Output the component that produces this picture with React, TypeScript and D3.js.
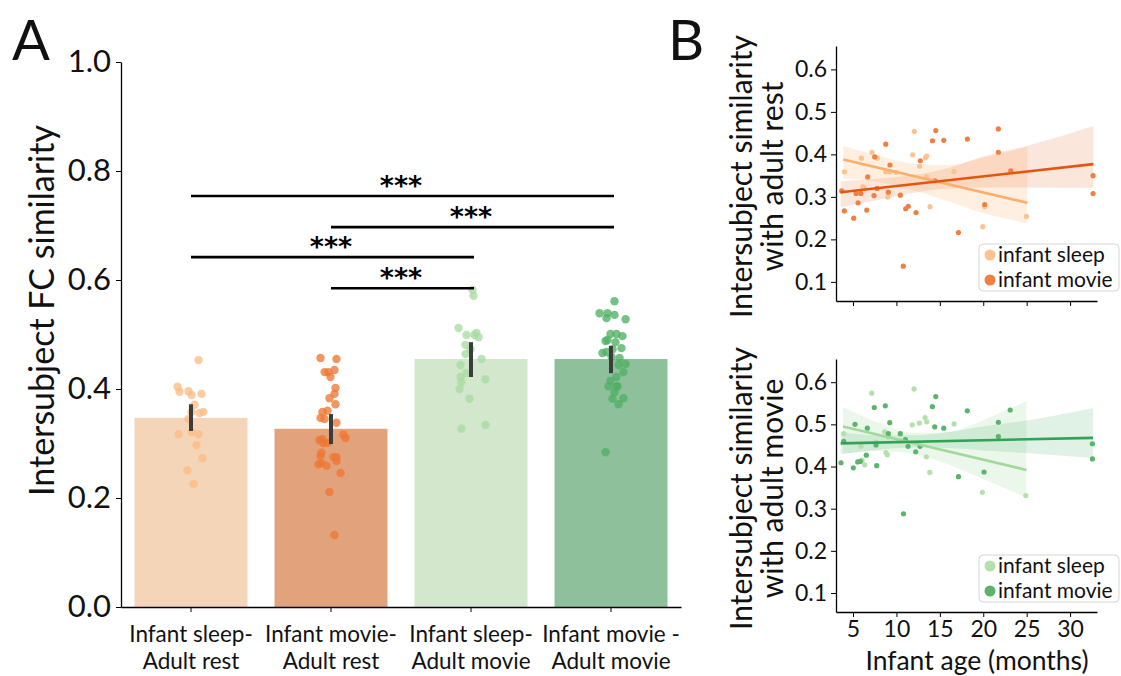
import React, { useRef, useEffect } from "react";
import * as d3 from "d3";

// ---- panel A data ----
const categories = [
  "Infant sleep-|Adult rest",
  "Infant movie-|Adult rest",
  "Infant sleep-|Adult movie",
  "Infant movie -|Adult movie",
];
const barMeans = [0.347, 0.327, 0.455, 0.455];
const ciLow = [0.323, 0.299, 0.422, 0.429];
const ciHigh = [0.372, 0.354, 0.486, 0.479];

// [jitter (category units), value]
const sleepRestPts = [
  [0.054, 0.453], [-0.096, 0.404], [-0.082, 0.395], [-0.018, 0.396], [0.004, 0.389],
  [0.075, 0.391], [0.025, 0.371], [0.004, 0.358], [0.061, 0.356], [0.089, 0.358],
  [-0.018, 0.345], [0.004, 0.321], [-0.089, 0.317], [0.054, 0.317], [0.039, 0.297],
  [0.082, 0.273], [-0.025, 0.251], [0.018, 0.226],
];
const movieRestPts = [
  [-0.075, 0.457], [0.039, 0.455], [-0.046, 0.431], [-0.018, 0.431], [0.025, 0.435],
  [-0.004, 0.422], [0.032, 0.402], [0.025, 0.391], [-0.011, 0.383], [0.032, 0.372],
  [-0.061, 0.358], [-0.025, 0.36], [-0.075, 0.347], [-0.046, 0.345], [0.039, 0.338],
  [0.089, 0.316], [0.104, 0.31], [-0.082, 0.306], [-0.061, 0.308], [-0.054, 0.301],
  [-0.025, 0.301], [-0.068, 0.283], [-0.075, 0.277], [0.018, 0.275], [0.039, 0.275],
  [0.039, 0.268], [-0.089, 0.262], [-0.068, 0.264], [-0.032, 0.259], [0.068, 0.246],
  [-0.011, 0.211], [0.025, 0.132],
];
const sleepMoviePts = [
  [0.011, 0.582], [0.018, 0.571], [-0.089, 0.512], [-0.032, 0.499], [0.039, 0.503],
  [0.054, 0.495], [0.025, 0.499], [-0.039, 0.481], [-0.004, 0.473], [-0.039, 0.464],
  [0.075, 0.455], [-0.075, 0.444], [-0.032, 0.429], [-0.075, 0.422], [-0.068, 0.413],
  [0.104, 0.418], [-0.082, 0.4], [-0.011, 0.382], [0.104, 0.334], [-0.068, 0.327],
];
const movieMoviePts = [
  [0.025, 0.561], [-0.082, 0.539], [-0.025, 0.539], [0.025, 0.536], [-0.032, 0.53],
  [0.104, 0.528], [-0.004, 0.501], [0.039, 0.501], [0.082, 0.497], [-0.039, 0.488],
  [-0.025, 0.49], [0.032, 0.486], [0.075, 0.475], [0.011, 0.473], [-0.061, 0.466],
  [-0.032, 0.468], [0.004, 0.459], [0.061, 0.457], [0.054, 0.444], [0.104, 0.446],
  [0.089, 0.431], [0.039, 0.422], [-0.004, 0.415], [-0.018, 0.405], [0.046, 0.405],
  [0.039, 0.404], [0.025, 0.394], [0.089, 0.383], [0.011, 0.382], [0.054, 0.372],
  [-0.039, 0.284],
];
const stripPts = [sleepRestPts, movieRestPts, sleepMoviePts, movieMoviePts];
// [from, to, height]
const sigPairs = [
  [0, 3, 0.754],
  [1, 3, 0.697],
  [0, 2, 0.642],
  [1, 2, 0.585],
];
const yTicksA = [0, 0.2, 0.4, 0.6, 0.8, 1.0];

// ---- panel B data: [age in months, similarity] ----
const restSleep = [
  [12.06, 0.454], [7.19, 0.405], [7.8, 0.391], [5.96, 0.391], [11.88, 0.399],
  [13.49, 0.396], [13.33, 0.392], [12.68, 0.372], [8.77, 0.359], [9.26, 0.359],
  [9.95, 0.358], [4.0, 0.359], [13.49, 0.347], [16.64, 0.36], [6.12, 0.324],
  [6.35, 0.32], [9.0, 0.3], [13.87, 0.277], [20.17, 0.277], [19.94, 0.23],
  [24.97, 0.254],
];
const restMovie = [
  [14.53, 0.456], [14.15, 0.432], [15.45, 0.433], [8.77, 0.424], [7.5, 0.394],
  [12.75, 0.385], [9.26, 0.375], [6.69, 0.347], [14.45, 0.338], [3.7, 0.314],
  [5.35, 0.308], [5.89, 0.308], [7.77, 0.32], [9.07, 0.311], [7.42, 0.303],
  [10.45, 0.304], [4.0, 0.267], [5.58, 0.286], [6.58, 0.269], [5.08, 0.25],
  [11.37, 0.278], [11.07, 0.272], [12.26, 0.263], [17.14, 0.216], [10.79, 0.137],
  [21.74, 0.46], [18.17, 0.436], [21.74, 0.405], [23.17, 0.361], [32.65, 0.35],
  [32.65, 0.308], [20.17, 0.282],
];
const movieSleep = [
  [12.03, 0.584], [7.15, 0.574], [11.83, 0.499], [12.64, 0.503], [13.3, 0.516],
  [13.49, 0.506], [16.64, 0.501], [8.65, 0.482], [9.07, 0.47], [3.93, 0.478],
  [7.7, 0.458], [5.92, 0.448], [8.8, 0.433], [8.95, 0.428], [13.45, 0.423],
  [6.04, 0.415], [6.35, 0.404], [13.84, 0.386], [19.9, 0.339], [24.9, 0.331],
];
const movieMovie = [
  [14.53, 0.566], [8.72, 0.544], [7.45, 0.54], [14.14, 0.542], [9.23, 0.504],
  [5.23, 0.5], [6.65, 0.491], [14.41, 0.494], [15.45, 0.491], [9.07, 0.478],
  [10.45, 0.478], [3.93, 0.46], [7.65, 0.451], [11.03, 0.464], [11.34, 0.448],
  [12.72, 0.448], [12.22, 0.435], [6.53, 0.427], [5.54, 0.411], [5.84, 0.412],
  [3.62, 0.409], [7.73, 0.402], [5.03, 0.397], [17.14, 0.376], [10.82, 0.288],
  [18.16, 0.532], [23.1, 0.534], [21.74, 0.505], [21.74, 0.471], [32.57, 0.454],
  [32.57, 0.418], [20.09, 0.387],
];
// regression fits [age, value] at both ends
const restSleepFit = [[3.88, 0.388], [25.08, 0.286]];
const restMovieFit = [[3.58, 0.311], [32.68, 0.377]];
const movieSleepFit = [[3.85, 0.495], [24.97, 0.392]];
const movieMovieFit = [[3.58, 0.455], [32.65, 0.468]];
// confidence bands [age, low, high]
const restSleepBand = [
  [3.88, 0.343, 0.42], [8, 0.335, 0.397], [12, 0.315, 0.378], [16, 0.29, 0.375],
  [20, 0.262, 0.392], [25.08, 0.238, 0.418],
];
const restMovieBand = [
  [3.58, 0.275, 0.337], [8, 0.293, 0.343], [12, 0.31, 0.352], [16, 0.32, 0.368],
  [20, 0.322, 0.395], [25, 0.322, 0.42], [32.68, 0.321, 0.467],
];
const movieSleepBand = [
  [3.85, 0.43, 0.541], [8, 0.437, 0.503], [12, 0.43, 0.48], [16, 0.405, 0.482],
  [20, 0.37, 0.51], [24.97, 0.327, 0.555],
];
const movieMovieBand = [
  [3.58, 0.43, 0.482], [8, 0.44, 0.474], [12, 0.445, 0.474], [16, 0.444, 0.482],
  [20, 0.438, 0.495], [25, 0.432, 0.509], [32.65, 0.42, 0.539],
];
const ageTicks = [5, 10, 15, 20, 25, 30];
const simTicks = [0.1, 0.2, 0.3, 0.4, 0.5, 0.6];

const FONT = "Lato, 'Open Sans', sans-serif";
const barColors = ["#f4d5b8", "#e1a27c", "#d3e7cd", "#8fc09c"];
const dotColors = ["#fdbd84", "#ee7733", "#a9dba2", "#4fb064"];

function App() {
  const svgRef = useRef<SVGSVGElement>(null);

  useEffect(() => {
    const svg = d3.select(svgRef.current);
    svg.selectAll("*").remove();
    svg.style("font-family", FONT);

    // ================= panel A =================
    const x = d3
      .scaleBand()
      .domain(categories)
      .range([121, 681])
      .paddingInner(0.193)
      .paddingOuter(0.0965);
    const y = d3.scaleLinear().domain([0, 1]).range([607, 62]);
    const cx = (i) => x(categories[i]) + x.bandwidth() / 2;

    const a = svg.append("g");

    a.selectAll("rect.bar")
      .data(barMeans)
      .join("rect")
      .attr("x", (d, i) => x(categories[i]))
      .attr("width", x.bandwidth())
      .attr("y", (d) => y(d))
      .attr("height", (d) => y(0) - y(d))
      .attr("fill", (d, i) => barColors[i]);

    stripPts.forEach((pts, i) => {
      a.append("g")
        .selectAll("circle")
        .data(pts)
        .join("circle")
        .attr("cx", (d) => cx(i) + d[0] * x.step())
        .attr("cy", (d) => y(d[1]))
        .attr("r", 4.2)
        .attr("fill", dotColors[i])
        .attr("fill-opacity", 0.78);
    });

    a.selectAll("line.err")
      .data(barMeans)
      .join("line")
      .attr("x1", (d, i) => cx(i))
      .attr("x2", (d, i) => cx(i))
      .attr("y1", (d, i) => y(ciLow[i]))
      .attr("y2", (d, i) => y(ciHigh[i]))
      .attr("stroke", "#3c3c3c")
      .attr("stroke-width", 4);

    a.append("g")
      .attr("transform", `translate(121,0)`)
      .call(d3.axisLeft(y).tickValues(yTicksA).tickFormat(d3.format(".1f")).tickSize(5).tickSizeOuter(0))
      .call((g) => g.select(".domain").attr("stroke-width", 1.3))
      .call((g) => g.selectAll("text").attr("font-size", 31).attr("font-family", FONT).attr("x", -10).attr("fill", "#111"));

    a.append("g")
      .attr("transform", `translate(0,607)`)
      .call(d3.axisBottom(x).tickSize(5).tickSizeOuter(0))
      .call((g) => g.select(".domain").attr("stroke-width", 1.3))
      .call((g) => g.selectAll("text").remove())
      .call((g) =>
        g.selectAll(".tick").each(function (d) {
          (d as string).split("|").forEach((s, k) => {
            d3.select(this)
              .append("text")
              .attr("fill", "#111")
              .attr("font-size", 22.5)
              .attr("font-family", FONT)
              .attr("text-anchor", "middle")
              .attr("x", 0)
              .attr("y", 35 + k * 27)
              .text(s);
          });
        })
      );

    a.append("text")
      .attr("transform", `translate(54,${(y(0) + y(1)) / 2 - 24}) rotate(-90)`)
      .attr("text-anchor", "middle")
      .attr("font-size", 34)
      .attr("fill", "#111")
      .text("Intersubject FC similarity");

    const sig = a.append("g");
    sigPairs.forEach(([i, j, h]) => {
      sig.append("line")
        .attr("x1", cx(i))
        .attr("x2", cx(j) + 3)
        .attr("y1", y(h))
        .attr("y2", y(h))
        .attr("stroke", "#000")
        .attr("stroke-width", 2.6);
      sig.append("text")
        .attr("x", (cx(i) + cx(j)) / 2)
        .attr("y", y(h) - 1)
        .attr("text-anchor", "middle")
        .attr("font-size", 27)
        .attr("font-family", "'DejaVu Sans', sans-serif")
        .attr("font-weight", "bold")
        .text("***");
    });

    svg.append("text").attr("x", 12).attr("y", 60).attr("font-size", 56).attr("fill", "#111").text("A");
    svg.append("text").attr("x", 668).attr("y", 60).attr("font-size", 56).attr("fill", "#111").text("B");

    // ================= panel B =================
    const xb = d3.scaleLinear().domain([3.04, 33.1]).range([836, 1097]);

    const drawPanel = (top, bottom, sleepPts, moviePts, sFit, mFit, sBand, mBand, colors, lines, showAge) => {
      const yb = d3.scaleLinear().domain([0.055, 0.655]).range([bottom, top]);
      const g = svg.append("g");
      const area = d3
        .area()
        .x((d) => xb(d[0]))
        .y0((d) => yb(d[1]))
        .y1((d) => yb(d[2]))
        .curve(d3.curveMonotoneX);
      const line = d3
        .line()
        .x((d) => xb(d[0]))
        .y((d) => yb(d[1]));

      g.append("path").attr("d", area(sBand)).attr("fill", colors.sBand).attr("fill-opacity", 0.2);
      g.append("path").attr("d", area(mBand)).attr("fill", colors.mBand).attr("fill-opacity", 0.15);

      g.append("g")
        .selectAll("circle")
        .data(sleepPts)
        .join("circle")
        .attr("cx", (d) => xb(d[0]))
        .attr("cy", (d) => yb(d[1]))
        .attr("r", 2.6)
        .attr("fill", colors.sDot);
      g.append("g")
        .selectAll("circle")
        .data(moviePts)
        .join("circle")
        .attr("cx", (d) => xb(d[0]))
        .attr("cy", (d) => yb(d[1]))
        .attr("r", 2.6)
        .attr("fill", colors.mDot);

      g.append("path").attr("d", line(sFit)).attr("fill", "none").attr("stroke", colors.sLine).attr("stroke-width", 2.6);
      g.append("path").attr("d", line(mFit)).attr("fill", "none").attr("stroke", colors.mLine).attr("stroke-width", 2.6);

      g.append("g")
        .attr("transform", `translate(836,0)`)
        .call(d3.axisLeft(yb).tickValues(simTicks).tickFormat(d3.format(".1f")).tickSize(5).tickSizeOuter(0))
        .call((s) => s.select(".domain").attr("stroke-width", 1.3))
        .call((s) => s.selectAll("text").attr("font-size", 23).attr("font-family", FONT).attr("x", -9).attr("fill", "#111"));

      g.append("g")
        .attr("transform", `translate(0,${bottom})`)
        .call(d3.axisBottom(xb).tickValues(ageTicks).tickSize(5).tickSizeOuter(0))
        .call((s) => s.select(".domain").attr("stroke-width", 1.3))
        .call((s) =>
          showAge
            ? s.selectAll("text").attr("font-size", 23).attr("font-family", FONT).attr("y", 9).attr("fill", "#111")
            : s.selectAll("text").remove()
        );

      const mid = (top + bottom) / 2;
      [0, 1].forEach((k) => {
        g.append("text")
          .attr("transform", `translate(${752 + k * 31},${mid + 3}) rotate(-90)`)
          .attr("text-anchor", "middle")
          .attr("font-size", 30)
          .attr("fill", "#111")
          .text(lines[k]);
      });

      // legend
      const lg = g.append("g").attr("transform", `translate(979,${bottom - 57})`);
      lg.append("rect")
        .attr("width", 140)
        .attr("height", 47)
        .attr("rx", 4)
        .attr("fill", "#fff")
        .attr("fill-opacity", 0.8)
        .attr("stroke", "#d6d6d6");
      [
        ["infant sleep", colors.sDot],
        ["infant movie", colors.mDot],
      ].forEach(([name, c], k) => {
        lg.append("circle").attr("cx", 11).attr("cy", 11 + k * 25).attr("r", 5.5).attr("fill", c);
        lg.append("text")
          .attr("x", 19)
          .attr("y", 11 + k * 25)
          .attr("dy", "0.35em")
          .attr("font-size", 21)
          .attr("fill", "#111")
          .text(name);
      });
    };

    drawPanel(
      46, 301, restSleep, restMovie, restSleepFit, restMovieFit, restSleepBand, restMovieBand,
      { sDot: "#fdc38e", mDot: "#ef7f42", sLine: "#fdae6b", mLine: "#e6550d", sBand: "#fdae6b", mBand: "#e6550d" },
      ["Intersubject similarity", "with adult rest"],
      false
    );
    drawPanel(
      359, 612, movieSleep, movieMovie, movieSleepFit, movieMovieFit, movieSleepBand, movieMovieBand,
      { sDot: "#b5e0ad", mDot: "#5bb46b", sLine: "#a1d99b", mLine: "#31a354", sBand: "#a1d99b", mBand: "#31a354" },
      ["Intersubject similarity", "with adult movie"],
      true
    );

    svg.append("text")
      .attr("x", 977)
      .attr("y", 670)
      .attr("text-anchor", "middle")
      .attr("font-size", 26.5)
      .attr("fill", "#111")
      .text("Infant age (months)");
  }, []);

  return (
    <div style={{ position: "absolute", left: 0, top: 0 }}>
      <svg ref={svgRef} width={1121} height={676}></svg>
    </div>
  );
}

export default App;
